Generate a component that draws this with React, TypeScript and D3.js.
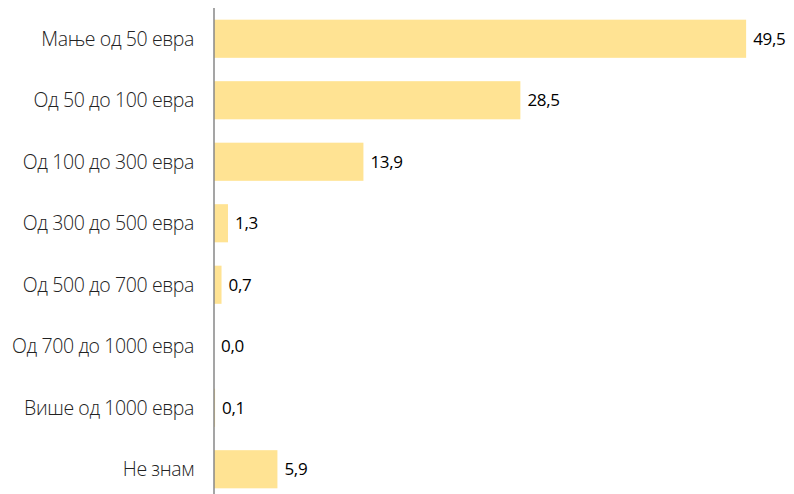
import * as d3 from 'd3'

const categories = [
  'Мање од 50 евра',
  'Од 50 до 100 евра',
  'Од 100 до 300 евра',
  'Од 300 до 500 евра',
  'Од 500 до 700 евра',
  'Од 700 до 1000 евра',
  'Више од 1000 евра',
  'Не знам',
]
const values = [49.5, 28.5, 13.9, 1.3, 0.7, 0.0, 0.1, 5.9]
const valueLabels = ['49,5', '28,5', '13,9', '1,3', '0,7', '0,0', '0,1', '5,9']

const width = 794
const height = 494

export default function App() {
  const x = d3.scaleLinear().domain([0, 50]).range([214, 751.5])
  const y = d3.scaleBand<string>().domain(categories).range([8, 500]).paddingInner(0.38).paddingOuter(0.19)
  const data = categories.map((c, i) => ({label: c, value: values[i], text: valueLabels[i]}))

  return (
    <svg
      width={width}
      height={height}
      style={{position: 'absolute', left: 0, top: 0, fontFamily: '"Open Sans", sans-serif'}}
    >
      {data.map(d => (
        <rect
          key={d.label}
          x={x(0)}
          y={y(d.label)}
          width={x(d.value) - x(0)}
          height={y.bandwidth()}
          fill="#FFE393"
        />
      ))}
      <line x1={x(0)} x2={x(0)} y1={8} y2={500} stroke="#878787" strokeWidth={1.5} />
      {data.map(d => (
        <text
          key={'c' + d.label}
          x={194}
          y={(y(d.label) || 0) + y.bandwidth() / 2}
          dy="0.36em"
          textAnchor="end"
          fontSize={19.5}
          fontWeight={300}
          letterSpacing={-0.4}
          fill="#222"
        >
          {d.label}
        </text>
      ))}
      {data.map(d => (
        <text
          key={'v' + d.label}
          x={x(d.value) + 7}
          y={(y(d.label) || 0) + y.bandwidth() / 2}
          dy="0.36em"
          fontSize={17}
          letterSpacing={-0.3}
          fill="#000"
        >
          {d.text}
        </text>
      ))}
    </svg>
  )
}
